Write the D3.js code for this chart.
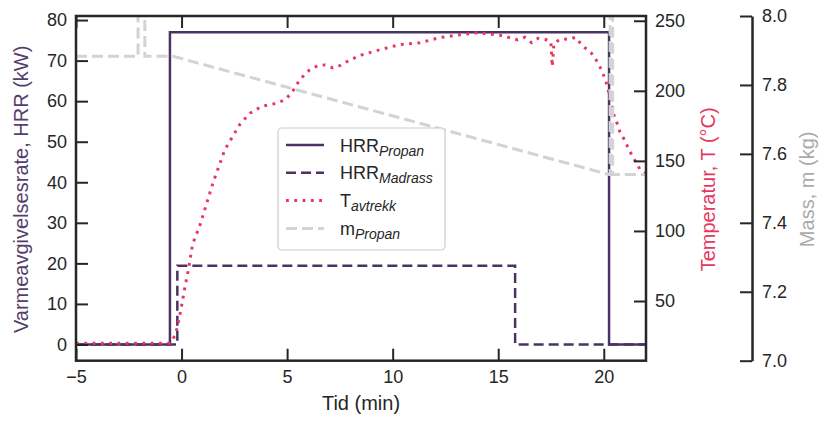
<!DOCTYPE html>
<html><head><meta charset="utf-8">
<script src="https://cdn.jsdelivr.net/npm/d3@7"></script>
<style>body{margin:0;background:#fff} text{font-family:"Liberation Sans",Arial,sans-serif}</style>
</head><body><svg id="c" width="820" height="421"></svg>
<script>
// ---- data ----
const timeTicks = [-5, 0, 5, 10, 15, 20];
const hrrTicks = [0, 10, 20, 30, 40, 50, 60, 70, 80];
const tempTicks = [50, 100, 150, 200, 250];
const massTicks = [7.0, 7.2, 7.4, 7.6, 7.8, 8.0];

const propanTime = [-5, -0.55, 20.25, 22];
const propanHRR = [0, 77, 0, 0];
const madrassTime = [-5, -0.2, 15.8, 22];
const madrassHRR = [0, 19.4, 0, 0];

const tempTime = [-5, -0.55, -0.32, -0.21, -0.13, -0.05, 0.03, 0.17, 0.33, 0.52, 0.87, 1.48, 2.05, 2.76, 3.24, 3.8, 4.47, 4.89, 5.22, 5.6, 6.07, 6.46, 6.79, 7.17, 7.5, 7.97, 8.54, 9.39, 10.34, 11.29, 12.24, 13.19, 14.04, 14.52, 14.92, 15.22, 15.63, 15.93, 16.26, 16.58, 16.89, 17.21, 17.49, 17.56, 17.64, 17.97, 18.35, 18.66, 18.87, 19.1, 19.39, 19.62, 19.81, 19.97, 20.1, 20.21, 20.29, 20.4, 20.49, 20.63, 20.76, 20.95, 21.13, 21.32, 21.52, 21.71, 22];
const tempValues = [19.9, 19.9, 25, 30.6, 36.5, 42.5, 48.9, 60.8, 72.7, 90.5, 104, 134, 158, 176, 184, 189, 191, 193.5, 198.5, 208, 215, 218, 218.5, 216.4, 218, 222, 225.7, 229.3, 233, 234.3, 238, 240, 241.5, 240.6, 239.9, 239.4, 237.5, 236.3, 238.2, 234.4, 237.5, 236.8, 235.1, 217.3, 234, 237, 236.8, 238.2, 234.4, 230.8, 227.3, 222.5, 217.3, 212.1, 206.6, 200.6, 194.3, 188.3, 182.3, 176.9, 170.9, 165.7, 160.2, 154.3, 149.1, 144.1, 140];

const massTime = [-5, -2.06, -2.06, -1.74, -1.74, -0.4, 20.25, 20.3, 20.3, 20.42, 20.42, 22];
const massValues = [7.883, 7.883, 8.3, 8.3, 7.883, 7.883, 7.54, 7.54, 8.3, 8.3, 7.54, 7.54];

const legendMain = ["HRR", "HRR", "T", "m"];
const legendSub = ["Propan", "Madrass", "avtrekk", "Propan"];

// ---- layout ----
const L = 76, R = 646, T = 16, B = 360.7;
const purple = "#4a3364", red = "#e8375f", gray = "#d3d3d3", ink = "#262626";

const svg = d3.select("#c");
const x = d3.scaleLinear().domain([-5, 22]).range([L, R]);
const yH = d3.scaleLinear().domain([-4, 81]).range([B, T]);
const yT = d3.scaleLinear().domain([7.4, 253.4]).range([B, T]);
const yM = d3.scaleLinear().domain([7, 8]).range([B, T]);

svg.append("clipPath").attr("id", "clip").append("rect")
  .attr("x", L).attr("y", T).attr("width", R - L).attr("height", B - T);

const g = svg.append("g").attr("clip-path", "url(#clip)");

function series(t, v) { return t.map((d, i) => [d, v[i]]); }

g.append("path").datum(series(propanTime, propanHRR))
  .attr("d", d3.line().x(d => x(d[0])).y(d => yH(d[1])).curve(d3.curveStepAfter))
  .attr("fill", "none").attr("stroke", purple).attr("stroke-width", 2.5);
g.append("path").datum(series(madrassTime, madrassHRR))
  .attr("d", d3.line().x(d => x(d[0])).y(d => yH(d[1])).curve(d3.curveStepAfter))
  .attr("fill", "none").attr("stroke", purple).attr("stroke-width", 2.5).attr("stroke-dasharray", "10,5");
g.append("path").datum(series(tempTime, tempValues))
  .attr("d", d3.line().x(d => x(d[0])).y(d => yT(d[1])))
  .attr("fill", "none").attr("stroke", red).attr("stroke-width", 3).attr("stroke-dasharray", "2.8,5.5");
g.append("path").datum(series(massTime, massValues))
  .attr("d", d3.line().x(d => x(d[0])).y(d => yM(d[1])))
  .attr("fill", "none").attr("stroke", gray).attr("stroke-width", 3).attr("stroke-dasharray", "11,5");

// ---- axes ----
function style(sel, removeDomain) {
  if (removeDomain) sel.select(".domain").remove();
  else sel.select(".domain").attr("stroke", ink).attr("stroke-width", 2.5);
  sel.selectAll(".tick line").attr("stroke", ink).attr("stroke-width", 2);
  sel.selectAll(".tick text").attr("fill", ink).style("font-size", "18px")
    .style("font-family", '"Liberation Sans", Arial, sans-serif');
}
svg.append("g").attr("transform", `translate(0,${B})`)
  .call(d3.axisBottom(x).tickValues(timeTicks).tickSize(-12).tickPadding(9.5).tickFormat(d3.format("d")))
  .call(s => style(s, true));
svg.append("g").attr("transform", `translate(0,${T})`)
  .call(d3.axisTop(x).tickValues(timeTicks).tickSize(-12).tickFormat(""))
  .call(s => style(s, true));
svg.append("g").attr("transform", `translate(${L},0)`)
  .call(d3.axisLeft(yH).tickValues(hrrTicks).tickSize(-12).tickPadding(9))
  .call(s => style(s, true));
svg.append("g").attr("transform", `translate(${R},0)`)
  .call(d3.axisRight(yT).tickValues(tempTicks).tickSize(-12).tickPadding(9))
  .call(s => style(s, true));
svg.append("g").attr("transform", `translate(752,0)`)
  .call(d3.axisRight(yM).tickValues(massTicks).tickSize(-12).tickPadding(10).tickSizeOuter(0).tickFormat(d3.format(".1f")))
  .call(s => style(s, false));

svg.append("rect").attr("x", L).attr("y", T).attr("width", R - L).attr("height", B - T)
  .attr("fill", "none").attr("stroke", ink).attr("stroke-width", 2.5);

// ---- labels ----
svg.append("text").attr("x", (L + R) / 2 + 0).attr("y", 410).attr("text-anchor", "middle")
  .style("font-size", "20px").attr("fill", ink).text("Tid (min)");
svg.append("text").attr("transform", `translate(28,${(T + B) / 2 + 1}) rotate(-90)`).attr("text-anchor", "middle")
  .style("font-size", "20px").attr("fill", "#54406c").text("Varmeavgivelsesrate, HRR (kW)");
svg.append("text").attr("transform", `translate(715,${(T + B) / 2 + 1}) rotate(-90)`).attr("text-anchor", "middle")
  .style("font-size", "20px").attr("fill", red).text("Temperatur, T (°C)");
svg.append("text").attr("transform", `translate(814,${(T + B) / 2 + 1}) rotate(-90)`).attr("text-anchor", "middle")
  .style("font-size", "20px").attr("fill", "#aaaaaa").text("Mass, m (kg)");

// ---- legend ----
const lg = svg.append("g");
lg.append("rect").attr("x", 278).attr("y", 128).attr("width", 167).attr("height", 122).attr("rx", 4)
  .attr("fill", "#fff").attr("fill-opacity", 0.85).attr("stroke", "#cccccc").attr("stroke-width", 1.2);
const legStroke = [purple, purple, red, gray];
const legDash = [null, "10,5", "2.8,5.5", "11,5"];
const legW = [2.5, 2.5, 3, 3];
legendMain.forEach((m, i) => {
  const cy = 145 + i * 27.8;
  lg.append("line").attr("x1", 286).attr("x2", 324).attr("y1", cy).attr("y2", cy)
    .attr("stroke", legStroke[i]).attr("stroke-width", legW[i]).attr("stroke-dasharray", legDash[i]);
  const t = lg.append("text").attr("x", 340).attr("y", cy + 6.5).attr("fill", ink).style("font-size", "18px");
  t.append("tspan").text(m);
  t.append("tspan").attr("dy", 4).style("font-size", "14px").style("font-style", "italic").text(legendSub[i]);
});
</script></body></html>
